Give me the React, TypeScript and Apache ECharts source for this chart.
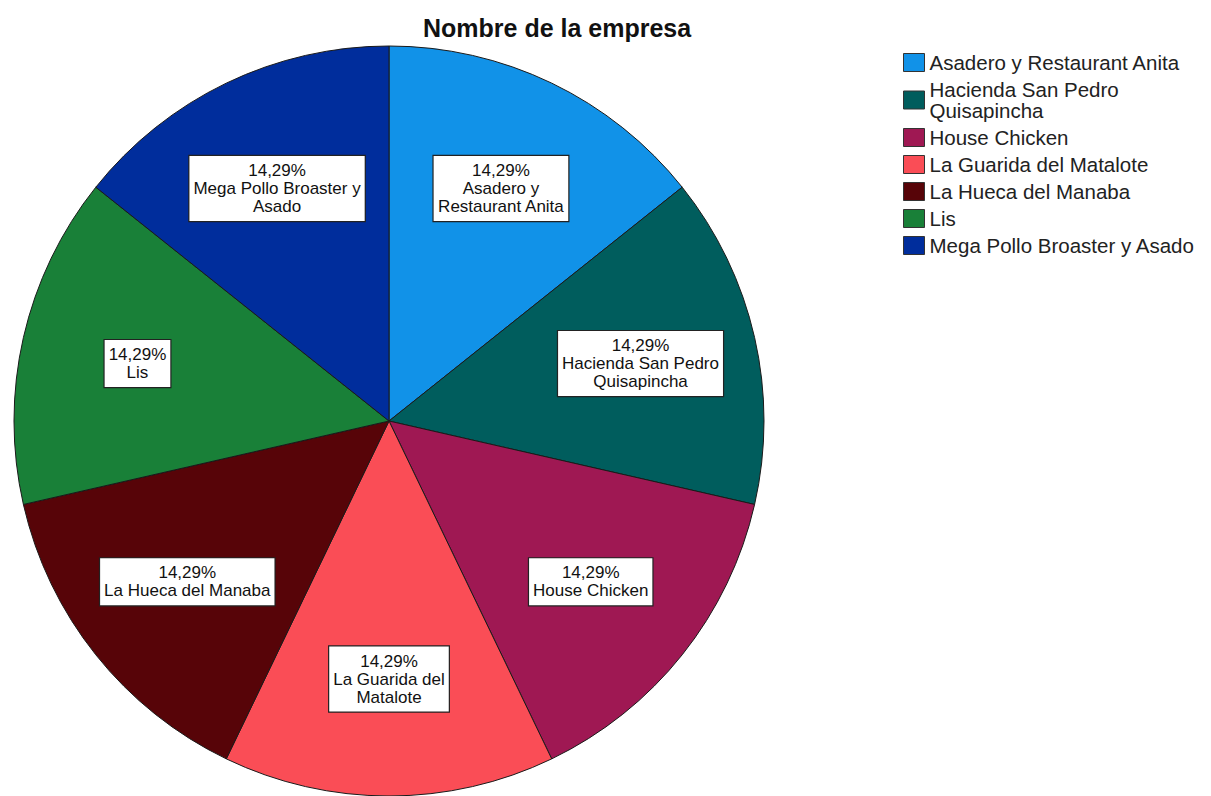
import React, { useEffect, useRef } from "react";
import * as echarts from "echarts";

const categories = [
  "Asadero y Restaurant Anita",
  "Hacienda San Pedro Quisapincha",
  "House Chicken",
  "La Guarida del Matalote",
  "La Hueca del Manaba",
  "Lis",
  "Mega Pollo Broaster y Asado",
];
const counts = [1, 1, 1, 1, 1, 1, 1];
const sliceLabelLines = [
  "Asadero y\nRestaurant Anita",
  "Hacienda San Pedro\nQuisapincha",
  "House Chicken",
  "La Guarida del\nMatalote",
  "La Hueca del Manaba",
  "Lis",
  "Mega Pollo Broaster y\nAsado",
];
const legendLines = [
  "Asadero y Restaurant Anita",
  "Hacienda San Pedro\nQuisapincha",
  "House Chicken",
  "La Guarida del Matalote",
  "La Hueca del Manaba",
  "Lis",
  "Mega Pollo Broaster y Asado",
];
const colors = ["#1192e8", "#005d5d", "#9f1853", "#fa4d56", "#570408", "#198038", "#002d9c"];
const titleText = "Nombre de la empresa";

const FONT = "'Liberation Sans', Arial, sans-serif";

export default function App() {
  const ref = useRef<HTMLDivElement>(null);
  useEffect(() => {
    document.body.style.margin = "0";
    if (!ref.current) return;
    const chart = echarts.init(ref.current, null, { renderer: "svg" });
    const total = counts.reduce((a, b) => a + b, 0);
    const data = categories.map((name, i) => ({
      name,
      value: counts[i],
      itemStyle: { color: colors[i] },
    }));
    const labelData = categories.map((name, i) => ({ name, value: counts[i] }));
    chart.setOption({
      animation: false,
      backgroundColor: "#ffffff",
      title: {
        text: titleText,
        left: 423,
        top: 15,
        padding: 0,
        textStyle: { fontFamily: FONT, fontSize: 25, fontWeight: "bold", color: "#111" },
      },
      legend: {
        orient: "vertical",
        left: 903,
        top: 52,
        padding: 0,
        icon: "rect",
        itemWidth: 21,
        itemHeight: 18,
        itemGap: 6,
        itemTextGap: 4,
        data: categories,
        formatter: (name: string) => legendLines[categories.indexOf(name)],
        textStyle: { fontFamily: FONT, fontSize: 20.5, lineHeight: 21, color: "#222" },
        itemStyle: { borderColor: "#333", borderWidth: 1 },
      },
      series: [
        {
          type: "pie",
          center: [389, 421],
          radius: 375,
          startAngle: 90,
          clockwise: true,
          silent: true,
          label: { show: false },
          labelLine: { show: false },
          itemStyle: { borderColor: "#1a1a1a", borderWidth: 1 },
          data,
        },
        {
          type: "pie",
          center: [389, 421],
          radius: [135, 375],
          startAngle: 90,
          clockwise: true,
          silent: true,
          legendHoverLink: false,
          itemStyle: { color: "rgba(0,0,0,0)", borderWidth: 0 },
          labelLine: { show: false },
          label: {
            show: true,
            position: "inside",
            formatter: (p: any) =>
              ((counts[p.dataIndex] / total) * 100).toFixed(2).replace(".", ",") +
              "%\n" +
              sliceLabelLines[p.dataIndex],
            fontFamily: FONT,
            fontSize: 17,
            lineHeight: 18,
            color: "#111",
            align: "center",
            backgroundColor: "#ffffff",
            borderColor: "#222",
            borderWidth: 1.2,
            padding: [6, 4, 5, 4],
          },
          data: labelData,
        },
      ],
    });
    return () => chart.dispose();
  }, []);
  return <div ref={ref} style={{ width: 1211, height: 796 }} />;
}
